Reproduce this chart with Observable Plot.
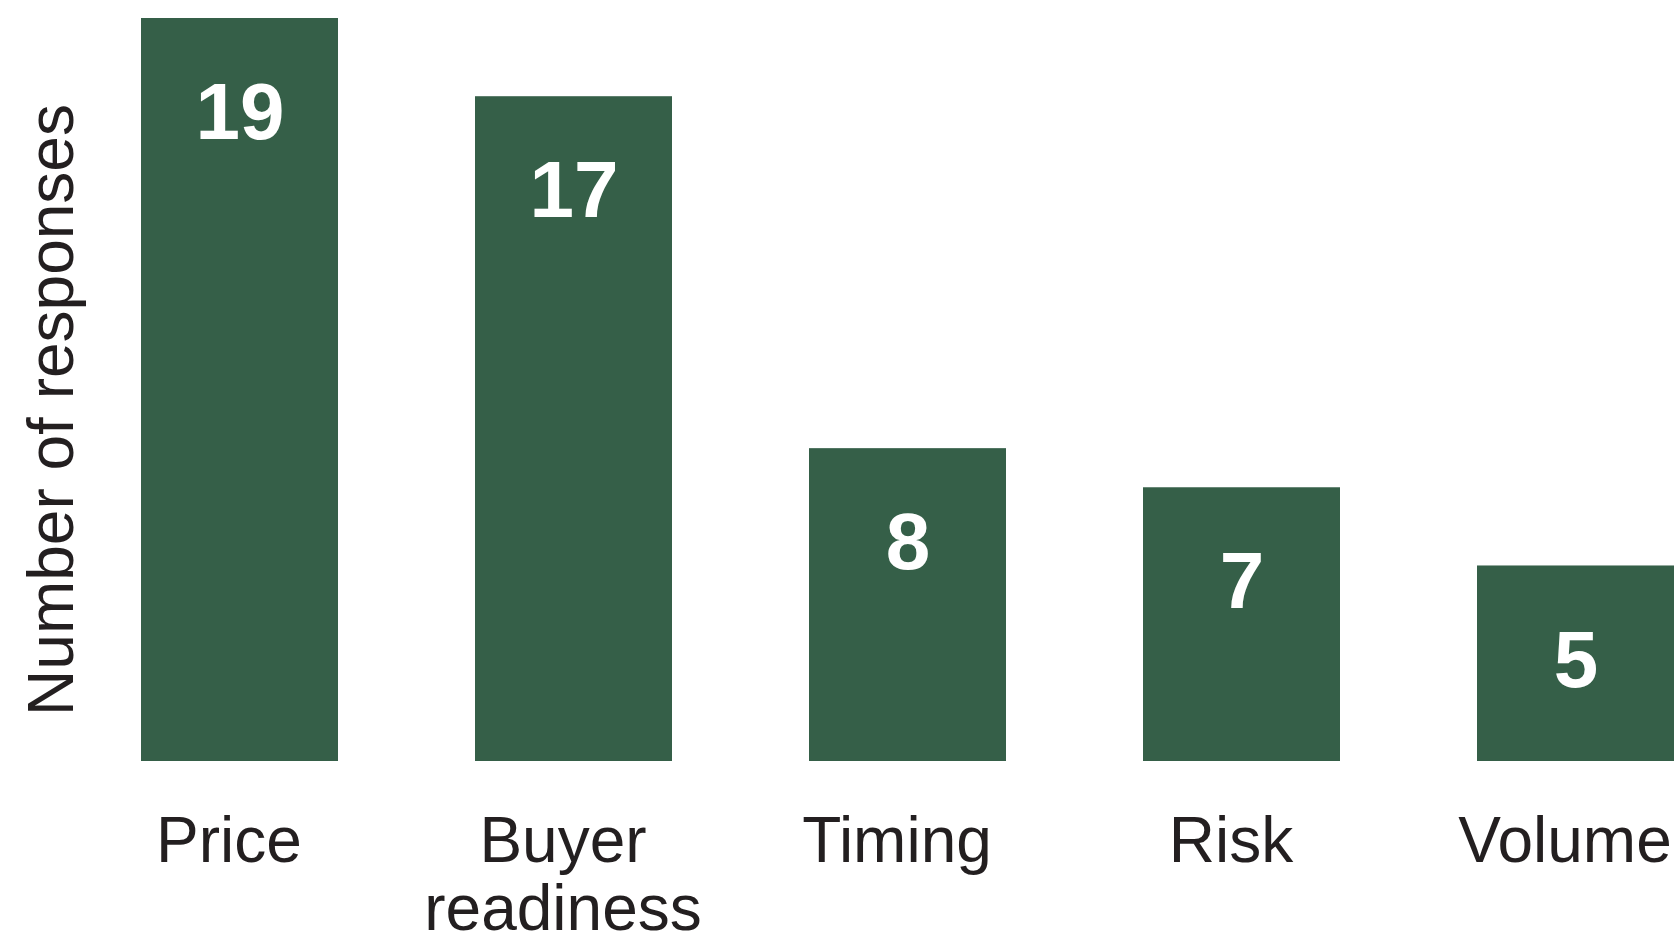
<!DOCTYPE html>
<html><head><meta charset="utf-8">
<script src="https://cdn.jsdelivr.net/npm/d3@7"></script>
<script src="https://cdn.jsdelivr.net/npm/@observablehq/plot@0.6"></script>
<style>body{margin:0;background:#fff;overflow:hidden}</style>
</head><body><div id="chart"></div>
<script>
const categories = ["Price", "Buyer readiness", "Timing", "Risk", "Volume"];
const responses = [19, 17, 8, 7, 5];
const tickLabels = ["Price", "Buyer\nreadiness", "Timing", "Risk", "Volume"];
const yLabel = "Number of responses";

const data = categories.map((c, i) => ({category: c, value: responses[i]}));
const ink = "#231f20";
const green = "#355f48";

const chart = Plot.plot({
  width: 1679,
  height: 937,
  marginLeft: 139,
  marginRight: 3,
  marginTop: 18,
  marginBottom: 176,
  style: {fontFamily: "'Liberation Sans', Arial, sans-serif", background: "#fff", color: ink},
  x: {domain: categories, paddingInner: 0.411, paddingOuter: 0, axis: null},
  y: {domain: [0, 19], axis: null},
  marks: [
    Plot.barY(data, {x: "category", y: "value", fill: green}),
    Plot.text(data, {x: "category", y: "value", text: d => String(d.value), dy: 95,
      fill: "white", fontWeight: "bold", fontSize: 80}),
    Plot.axisX({tickSize: 0, tickPadding: 52, fontSize: 64, lineHeight: 1.06, dx: -11,
      tickFormat: c => tickLabels[categories.indexOf(c)], label: null}),
    Plot.text([yLabel], {frameAnchor: "left", textAnchor: "middle", rotate: -90, dx: -87, dy: 20,
      fontSize: 64, fill: ink})
  ]
});
document.getElementById("chart").appendChild(chart);
</script>
</body></html>
